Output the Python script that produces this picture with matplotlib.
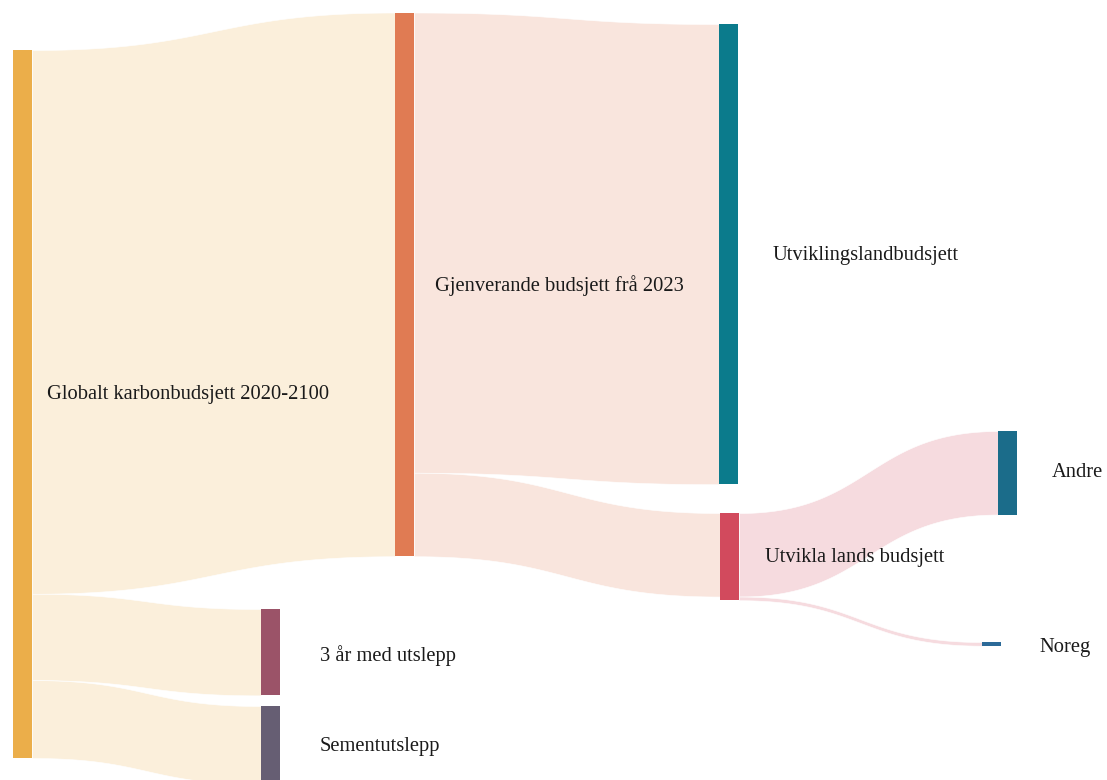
import numpy as np
import matplotlib
matplotlib.use("Agg")
import matplotlib.pyplot as plt
from matplotlib.colors import to_rgb

# nodes
nodes = ["Globalt karbonbudsjett 2020-2100", "Gjenverande budsjett frå 2023",
         "3 år med utslepp", "Sementutslepp", "Utviklingslandbudsjett",
         "Utvikla lands budsjett", "Andre", "Noreg"]
node_colors = ["#EBAE4A", "#E07B53", "#9B5368", "#665E73", "#0B7B8C",
               "#D24A5D", "#1B6C8A", "#2C6A98"]

# links (source, target, value in GtCO2)
src = [0, 0, 0, 1, 1, 5, 5]
tgt = [1, 2, 3, 4, 5, 6, 7]
vals = [384, 61, 55, 325, 59, 59, 2.6]

# layout (pixels): node left edge, node top, label offsets
node_x = [13, 395, 261, 261, 719, 720, 998, 982]
node_top = [50, 12.5, 609, 706, 24, 513, 431, 642]
label_dx = [15, 21, 40, 40, 35, 26, 35, 38]
label_dy = [-9, 1, 3, 2, 1, 1, 0, 4]
node_w = 19
scale = 708 / 500.0

W, H = 1107, 780
fig = plt.figure(figsize=(W / 100, H / 100), dpi=100)
ax = fig.add_axes([0, 0, 1, 1])
ax.set_xlim(0, W)
ax.set_ylim(H, 0)
ax.axis("off")

n = len(nodes)
inflow = np.zeros(n)
outflow = np.zeros(n)
for s, t, v in zip(src, tgt, vals):
    outflow[s] += v
    inflow[t] += v
heights = np.maximum(inflow, outflow) * scale

def light(c, a=0.2):
    r = np.array(to_rgb(c))
    return tuple(1 - a * (1 - r))

# links
out_off = list(node_top)
in_off = list(node_top)
tt = np.linspace(0, 1, 200)
for s, t, v in zip(src, tgt, vals):
    h = v * scale
    x0 = node_x[s] + node_w
    x1 = node_x[t]
    xm = (x0 + x1) / 2
    y0 = out_off[s]
    y1 = in_off[t]
    out_off[s] += h
    in_off[t] += h
    bx = (1 - tt) ** 3 * x0 + 3 * (1 - tt) ** 2 * tt * xm + 3 * (1 - tt) * tt ** 2 * xm + tt ** 3 * x1
    by = (1 - tt) ** 3 * y0 + 3 * (1 - tt) ** 2 * tt * y0 + 3 * (1 - tt) * tt ** 2 * y1 + tt ** 3 * y1
    ax.fill_between(bx, by, by + h, color=light(node_colors[s]),
                    edgecolor="white", linewidth=0.4, zorder=1)

# nodes + labels
for i in range(n):
    ax.bar(node_x[i], heights[i], width=node_w, bottom=node_top[i], align="edge",
           color=node_colors[i], zorder=2)
    ax.text(node_x[i] + node_w + label_dx[i], node_top[i] + heights[i] / 2 + label_dy[i],
            nodes[i], fontsize=14.8, family="Liberation Serif", color="#1a1a1a",
            va="center", ha="left", zorder=3)

fig.savefig("out.png", dpi=100)
